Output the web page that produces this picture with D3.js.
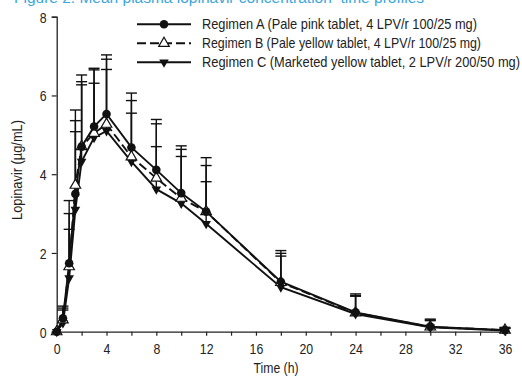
<!DOCTYPE html>
<html>
<head>
<meta charset="utf-8">
<script src="https://cdnjs.cloudflare.com/ajax/libs/d3/7.8.5/d3.min.js"></script>
<style>
	body { margin: 0; background: #fff; }
	svg { display: block; font-family: "Liberation Sans", Arial, sans-serif; }
</style>
</head>
<body>
<div id="chart"></div>
<script>
// Data
const times = [0, 0.5, 1, 1.5, 2, 3, 4, 6, 8, 10, 12, 18, 24, 30, 36];
const regimenA = [0, 0.34, 1.74, 3.5, 4.7, 5.21, 5.53, 4.68, 4.11, 3.52, 3.05, 1.27, 0.49, 0.13, 0.04];
const regimenB = [0, 0.3, 1.65, 3.72, 4.7, 5.04, 5.27, 4.44, 3.9, 3.39, 3.05, 1.25, 0.48, 0.12, 0.04];
const regimenC = [0, 0.22, 1.36, 3.1, 4.32, 4.93, 5.1, 4.32, 3.62, 3.26, 2.74, 1.13, 0.45, 0.11, 0.03];
// upper ends of the error bars
const upperA = [0, 0.65, 3.33, 5.36, 6.35, 6.69, 7.03, 6.06, 5.39, 4.72, 4.42, 2.06, 0.96, 0.32, 0.11];
const upperB = [0, 0.6, 3.0, 5.63, 6.52, 6.65, 6.92, 5.87, 5.28, 4.63, 4.22, 1.99, 0.92, 0.3, 0.09];
const upperC = [0, 0.55, 2.6, 5.08, 6.27, 6.31, 6.66, 5.55, 4.7, 4.45, 3.81, 1.92, 0.9, 0.28, 0.08];
const legendLabels = [
	"Regimen A (Pale pink tablet, 4 LPV/r 100/25 mg)",
	"Regimen B (Pale yellow tablet, 4 LPV/r 100/25 mg)",
	"Regimen C (Marketed yellow tablet, 2 LPV/r 200/50 mg)"
];
const xTicks = d3.range(0, 37, 2);
const yTicks = [0, 2, 4, 6, 8];

const series = [
	{ values: regimenA, upper: upperA, marker: "circle", dash: null },
	{ values: regimenB, upper: upperB, marker: "triangle", dash: "9,4" },
	{ values: regimenC, upper: upperC, marker: "down", dash: null }
];

// the original type is a condensed face; squeeze the text to its width
function condense(sel, factor) {
	sel.each(function() {
		let w = this.getComputedTextLength();
		if (w > 0) {
			d3.select(this)
				.attr("textLength", w * factor)
				.attr("lengthAdjust", "spacingAndGlyphs");
		}
	});
}

// Dimensions
const W = 522, H = 379;
const x = d3.scaleLinear().domain([0, 36]).range([56.7, 505]);
const y = d3.scaleLinear().domain([0, 8]).range([331.7, 16.7]);

const svg = d3.select("#chart").append("svg")
	.attr("width", W)
	.attr("height", H);

// blue heading, mostly cut off at the top edge
svg.append("text")
	.attr("x", 14)
	.attr("y", 3)
	.style("font-size", "14px")
	.attr("fill", "#3aa6dc")
	.attr("textLength", 410)
	.attr("lengthAdjust", "spacingAndGlyphs")
	.text("Figure 2. Mean plasma lopinavir concentration–time profiles");

// Axes
const xAxis = svg.append("g")
	.attr("transform", "translate(0," + y(0) + ")")
	.call(d3.axisBottom(x).tickValues(xTicks).tickSize(4).tickPadding(8)
		.tickFormat(d => d % 4 === 0 ? d : ""));
const yAxis = svg.append("g")
	.attr("transform", "translate(" + x(0) + ",0)")
	.call(d3.axisLeft(y).tickValues(yTicks).tickSize(5).tickPadding(5));

[xAxis, yAxis].forEach(g => {
	g.select(".domain").attr("stroke", "#222").attr("stroke-width", 1.3);
	g.selectAll(".tick line").attr("stroke", "#222").attr("stroke-width", 1.2);
	g.selectAll(".tick text").attr("fill", "#222").style("font-size", "15px").style("font-family", "inherit");
	condense(g.selectAll(".tick text"), 0.82);
});
yAxis.selectAll(".tick text").attr("dy", "0.36em");

// Axis labels
svg.append("text")
	.attr("x", 276)
	.attr("y", 373)
	.attr("text-anchor", "middle")
	.style("font-size", "14px")
	.attr("fill", "#222")
	.attr("textLength", 45)
	.attr("lengthAdjust", "spacingAndGlyphs")
	.text("Time (h)");
svg.append("text")
	.attr("transform", "rotate(-90)")
	.attr("x", -170)
	.attr("y", 22)
	.attr("text-anchor", "middle")
	.style("font-size", "14px")
	.attr("fill", "#222")
	.attr("textLength", 100)
	.attr("lengthAdjust", "spacingAndGlyphs")
	.text("Lopinavir (µg/mL)");

// Error bars
series.forEach(s => {
	const g = svg.append("g").attr("stroke", "#111").attr("stroke-width", 1.4);
	times.forEach((t, i) => {
		if (s.upper[i] <= s.values[i]) return;
		g.append("line")
			.attr("x1", x(t)).attr("x2", x(t))
			.attr("y1", y(s.values[i])).attr("y2", y(s.upper[i]));
		g.append("line")
			.attr("x1", x(t) - 5.5).attr("x2", x(t) + 5.5)
			.attr("y1", y(s.upper[i])).attr("y2", y(s.upper[i]));
	});
});

// Lines
const line = d3.line()
	.x((d, i) => x(times[i]))
	.y(d => y(d));

series.slice().reverse().forEach(s => {
	svg.append("path")
		.datum(s.values)
		.attr("fill", "none")
		.attr("stroke", "#111")
		.attr("stroke-width", 1.9)
		.attr("stroke-dasharray", s.dash)
		.attr("d", line);
});

// Markers
function drawMarker(g, type, cx, cy) {
	if (type === "circle") {
		g.append("circle")
			.attr("cx", cx).attr("cy", cy).attr("r", 4.3)
			.attr("fill", "#111");
	} else if (type === "triangle") {
		g.append("path")
			.attr("d", d3.symbol().type(d3.symbolTriangle).size(48)())
			.attr("transform", "translate(" + cx + "," + cy + ")")
			.attr("fill", "#fff")
			.attr("stroke", "#111")
			.attr("stroke-width", 1.2);
	} else {
		g.append("path")
			.attr("d", d3.symbol().type(d3.symbolTriangle).size(40)())
			.attr("transform", "translate(" + cx + "," + cy + ") rotate(180)")
			.attr("fill", "#111");
	}
}

[2, 1, 0].forEach(k => {
	const s = series[k];
	const g = svg.append("g");
	times.forEach((t, i) => drawMarker(g, s.marker, x(t), y(s.values[i])));
});

// Legend
const legend = svg.append("g");
const legendY = [24.3, 43.3, 62.3];
const legendWidths = [275, 279, 318];
series.forEach((s, k) => {
	const ly = legendY[k];
	legend.append("line")
		.attr("x1", 137).attr("x2", 191)
		.attr("y1", ly).attr("y2", ly)
		.attr("stroke", "#111")
		.attr("stroke-width", 1.9)
		.attr("stroke-dasharray", s.dash);
	drawMarker(legend, s.marker, 164, ly);
	legend.append("text")
		.attr("x", 202)
		.attr("y", ly)
		.attr("dy", "0.35em")
		.style("font-size", "14.5px")
		.attr("fill", "#222")
		.attr("textLength", legendWidths[k])
		.attr("lengthAdjust", "spacingAndGlyphs")
		.text(legendLabels[k]);
});
</script>
</body>
</html>
